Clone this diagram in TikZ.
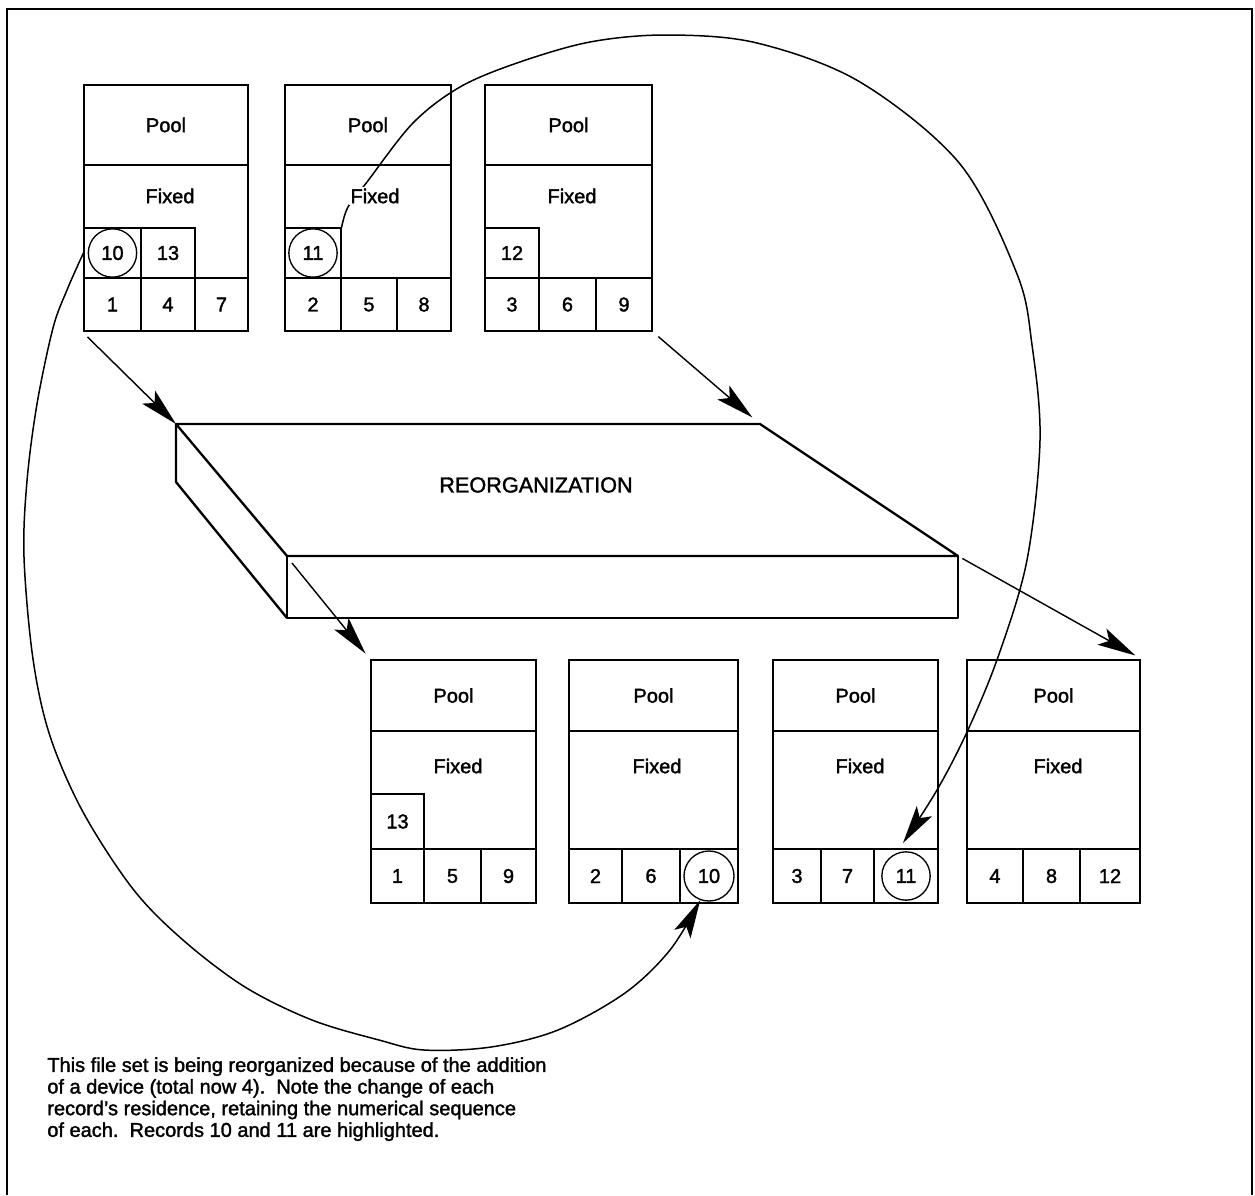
\documentclass[tikz,border=0pt]{standalone}
\usepackage{fontspec}
\setmainfont{Liberation Sans}[FakeBold=1.6]
\usetikzlibrary{arrows.meta,fit}

\begin{document}
\begin{tikzpicture}[x=0.6pt,y=-0.6pt,
  frameline/.style={line width=1.1pt},
  shell/.style={draw, line width=1.5pt, inner sep=0pt},
  poolbox/.style={draw, line width=1.4pt, inner sep=0pt},
  cellbox/.style={draw, line width=0.9pt, inner sep=0pt},
  spill/.style={draw, line width=0.7pt, inner sep=0pt},
  ptext/.style={font=\fontsize{12}{14}\selectfont, inner sep=1pt},
  rec/.style={draw, circle, line width=0.8pt, minimum size=29pt, inner sep=0pt,
              font=\fontsize{12}{14}\selectfont},
  tip/.style={-{Stealth[length=23pt,width=11pt,inset=5pt]}},
  flow/.style={tip, line width=0.85pt},
  move/.style={tip, line width=0.9pt},
  slabline/.style={line width=1.4pt, line join=round}]

\useasboundingbox (0,0) rectangle (1255,1195);

% page frame (open at the bottom)
\draw[frameline] (7,1195) -- (7,9) -- (1252,9) -- (1252,1195);

% ---------------- devices before reorganization ----------------
% device 1
\node[cellbox, fit={(84,278) (141,331)}, label={[ptext]center:1}] (t1n1) {};
\node[cellbox, fit={(141,278) (195,331)}, label={[ptext]center:4}] (t1n4) {};
\node[cellbox, fit={(195,278) (248,331)}, label={[ptext]center:7}] (t1n7) {};
\node[spill, fit={(84,228) (141,278)}] (t1s10) {};
\node[rec] (t1c10) at (t1s10.center) {10};
\node[spill, fit={(141,228) (195,278)}, label={[ptext]center:13}] (t1s13) {};
\node[poolbox, fit={(84,85) (248,165)}, label={[ptext]center:Pool}] (t1pool) {};
\node[ptext] (t1fix) at (170,196) {Fixed};
\node[shell, fit={(84,85) (248,331)}] (t1) {};

% device 2
\node[cellbox, fit={(285,278) (341,331)}, label={[ptext]center:2}] (t2n2) {};
\node[cellbox, fit={(341,278) (397,331)}, label={[ptext]center:5}] (t2n5) {};
\node[cellbox, fit={(397,278) (451,331)}, label={[ptext]center:8}] (t2n8) {};
\node[spill, fit={(285,228) (341,278)}] (t2s11) {};
\node[rec] (t2c11) at (t2s11.center) {11};
\node[poolbox, fit={(285,85) (451,165)}, label={[ptext]center:Pool}] (t2pool) {};
\node[shell, fit={(285,85) (451,331)}] (t2) {};

% device 3
\node[cellbox, fit={(485,278) (539,331)}, label={[ptext]center:3}] (t3n3) {};
\node[cellbox, fit={(539,278) (596,331)}, label={[ptext]center:6}] (t3n6) {};
\node[cellbox, fit={(596,278) (652,331)}, label={[ptext]center:9}] (t3n9) {};
\node[spill, fit={(485,228) (539,278)}, label={[ptext]center:12}] (t3s12) {};
\node[poolbox, fit={(485,85) (652,165)}, label={[ptext]center:Pool}] (t3pool) {};
\node[ptext] (t3fix) at (572,196) {Fixed};
\node[shell, fit={(485,85) (652,331)}] (t3) {};

% ---------------- reorganization slab ----------------
\coordinate (s1) at (176,424);
\coordinate (s2) at (760,424);
\coordinate (s3) at (958,556);
\coordinate (s4) at (287,556);
\coordinate (s5) at (287,618);
\coordinate (s6) at (958,618);
\coordinate (s7) at (176,482);
\draw[slabline] (s1) -- (s2) -- (s3) -- (s4) -- cycle;
\draw[slabline] (s4) -- (s3) -- (s6) -- (s5) -- cycle;
\draw[slabline] (s1) -- (s7) -- (s5);
\node[font=\fontsize{13}{15}\selectfont] (reorg) at (536,485) {REORGANIZATION};
\coordinate (s8) at (292,563);

% ---------------- devices after reorganization ----------------
% device 1
\node[cellbox, fit={(371,849) (424,903)}, label={[ptext]center:1}] (b1n1) {};
\node[cellbox, fit={(424,849) (481,903)}, label={[ptext]center:5}] (b1n5) {};
\node[cellbox, fit={(481,849) (536,903)}, label={[ptext]center:9}] (b1n9) {};
\node[spill, fit={(371,794) (424,849)}, label={[ptext]center:13}] (b1s13) {};
\node[poolbox, fit={(371,660) (536,731)}, label={[ptext]center:Pool}] (b1pool) {};
\node[ptext] (b1fix) at (458,766) {Fixed};
\node[shell, fit={(371,660) (536,903)}] (b1) {};

% device 2
\node[cellbox, fit={(569,849) (622,903)}, label={[ptext]center:2}] (b2n2) {};
\node[cellbox, fit={(622,849) (680,903)}, label={[ptext]center:6}] (b2n6) {};
\node[cellbox, fit={(680,849) (738,903)}] (b2n10) {};
\node[rec, minimum size=30pt] (b2c10) at (b2n10.center) {10};
\node[poolbox, fit={(569,660) (738,731)}, label={[ptext]center:Pool}] (b2pool) {};
\node[ptext] (b2fix) at (657,766) {Fixed};
\node[shell, fit={(569,660) (738,903)}] (b2) {};

% device 3
\node[cellbox, fit={(773,849) (821,903)}, label={[ptext]center:3}] (b3n3) {};
\node[cellbox, fit={(821,849) (874,903)}, label={[ptext]center:7}] (b3n7) {};
\node[cellbox, fit={(874,849) (938,903)}] (b3n11) {};
\node[rec] (b3c11) at (b3n11.center) {11};
\node[poolbox, fit={(773,660) (938,731)}, label={[ptext]center:Pool}] (b3pool) {};
\node[ptext] (b3fix) at (860,766) {Fixed};
\node[shell, fit={(773,660) (938,903)}] (b3) {};

% device 4
\node[cellbox, fit={(967,849) (1023,903)}, label={[ptext]center:4}] (b4n4) {};
\node[cellbox, fit={(1023,849) (1080,903)}, label={[ptext]center:8}] (b4n8) {};
\node[cellbox, fit={(1080,849) (1140,903)}, label={[ptext]center:12}] (b4n12) {};
\node[poolbox, fit={(967,660) (1140,731)}, label={[ptext]center:Pool}] (b4pool) {};
\node[ptext] (b4fix) at (1058,766) {Fixed};
\node[shell, fit={(967,660) (1140,903)}] (b4) {};

% ---------------- flow into and out of the reorganization ----------------
\draw[flow, shorten <=4pt] (t1.south west) -- (s1);
\draw[flow, shorten <=4pt, shorten >=6pt] (t3.south east) -- (s2);
\draw[flow, shorten >=4pt] (s8) -- (b1.north west);
\draw[flow, shorten <=3pt, shorten >=4pt] (s3) -- (b4.north east);

% ---------------- moves of records 10 and 11 ----------------
\coordinate (r11end) at (903,843);
\draw[move] plot[smooth, tension=0.55] coordinates {
  (t1s10.west) (67,290) (53,328) (37,404) (27,481) (24,557) (33,659)
  (50,736) (83,812) (133,889) (183,940) (245,987) (312,1020) (379,1040)
  (424,1050) (491,1047) (558,1030) (625,993) (670,950) (b2c10.250)};
\draw[move] plot[smooth, tension=0.55] coordinates {
  (t2s11.north east) (348,207) (367,182) (413,123) (460,87) (517,63)
  (590,42) (667,35) (757,43) (860,82) (960,164) (1017,274) (1032,345)
  (1040,440) (1027,560) (998,657) (967,732) (937,790) (r11end)};
\node[ptext, fill=white] (t2fix) at (375,196) {Fixed};

% ---------------- explanatory note ----------------
\node[anchor=north west, align=left, inner sep=0pt,
      font=\fontsize{12}{13}\selectfont] (note) at (47,1057)
  {This file set is being reorganized because of the addition\\
   of a device (total now 4).\ \ Note the change of each\\
   record’s residence, retaining the numerical sequence\\
   of each.\ \ Records 10 and 11 are highlighted.};
\end{tikzpicture}
\end{document}
